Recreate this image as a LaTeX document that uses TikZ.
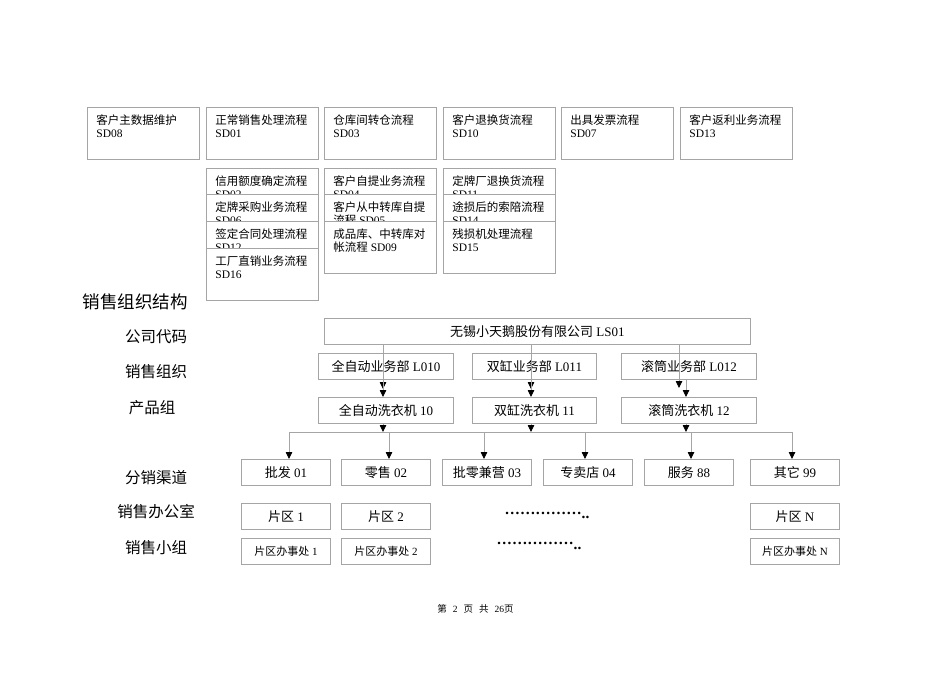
\documentclass[tikz,border=0pt]{standalone}
\usepackage{fontspec}
\setmainfont{Liberation Serif}
\newfontfamily\cjk{Noto Sans CJK SC}
\usetikzlibrary{arrows.meta}
\newcommand\zh[1]{{\cjk #1}}
\newcommand\tb[1]{\parbox[c][44pt][t]{94pt}{\vspace*{3pt}\raggedright #1}}
\definecolor{boxgray}{RGB}{165,165,165}
\begin{document}
\begin{tikzpicture}[x=1pt,y=-1pt,
  tbox/.style={draw=boxgray, line width=0.8pt, fill=white, anchor=north west,
    inner xsep=9pt, inner ysep=4pt, font=\fontsize{11.5}{13}\selectfont},
  obox/.style={draw=boxgray, line width=0.8pt, anchor=north west, inner sep=0pt,
    minimum height=26pt, font=\fontsize{13}{15}\selectfont},
  sbox/.style={obox, minimum width=89pt},
  lab/.style={font=\cjk\fontsize{15.5}{17}\selectfont, inner sep=0pt},
  dotrow/.style={inner sep=0pt, anchor=base, font=\bfseries\fontsize{15.4}{17}\selectfont},
  conn/.style={draw=boxgray, line width=0.8pt, -{Triangle[width=6.5pt,length=7pt,color=black]}},
  plain/.style={draw=boxgray, line width=0.8pt}]
\useasboundingbox (0,0) rectangle (950,672);
\fill[white] (0,0) rectangle (950,672);

% ---- top process boxes ----
\node[tbox] (sd08) at (87,107)  {\tb{\zh{客户主数据维护}\\SD08}};
\node[tbox] (sd01) at (206,107) {\tb{\zh{正常销售处理流程}\\SD01}};
\node[tbox] (sd03) at (324,107) {\tb{\zh{仓库间转仓流程}\\SD03}};
\node[tbox] (sd10) at (443,107) {\tb{\zh{客户退换货流程}\\SD10}};
\node[tbox] (sd07) at (561,107) {\tb{\zh{出具发票流程}\\SD07}};
\node[tbox] (sd13) at (680,107) {\tb{\zh{客户返利业务流程}\\SD13}};

\node[tbox] (sd02) at (206,168) {\tb{\zh{信用额度确定流程}\\SD02}};
\node[tbox] (sd06) at (206,194) {\tb{\zh{定牌采购业务流程}\\SD06}};
\node[tbox] (sd12) at (206,221) {\tb{\zh{签定合同处理流程}\\SD12}};
\node[tbox] (sd16) at (206,248) {\tb{\zh{工厂直销业务流程}\\SD16}};

\node[tbox] (sd04) at (324,168) {\tb{\zh{客户自提业务流程}\\SD04}};
\node[tbox] (sd05) at (324,194) {\tb{\zh{客户从中转库自提}\\\zh{流程} SD05}};
\node[tbox] (sd09) at (324,221) {\tb{\zh{成品库、中转库对}\\\zh{帐流程} SD09}};

\node[tbox] (sd11) at (443,168) {\tb{\zh{定牌厂退换货流程}\\SD11}};
\node[tbox] (sd14) at (443,194) {\tb{\zh{途损后的索陪流程}\\SD14}};
\node[tbox] (sd15) at (443,221) {\tb{\zh{残损机处理流程}\\SD15}};

% ---- left labels ----
\node[lab, font=\cjk\fontsize{17.5}{19}\selectfont] (t0) at (135,302) {销售组织结构};
\node[lab] (t1) at (156,337) {公司代码};
\node[lab] (t2) at (156,372) {销售组织};
\node[lab] (t3) at (152,408) {产品组};
\node[lab] (t4) at (156,478) {分销渠道};
\node[lab] (t5) at (156,512) {销售办公室};
\node[lab] (t6) at (156,548) {销售小组};

% ---- organisation boxes ----
\node[obox, minimum width=426pt] (ls01) at (324,318) {\zh{无锡小天鹅股份有限公司} LS01};
\node[obox, minimum width=135pt] (l010) at (318,353) {\zh{全自动业务部} L010};
\node[obox, minimum width=124pt] (l011) at (472,353) {\zh{双缸业务部} L011};
\node[obox, minimum width=135pt] (l012) at (621,353) {\zh{滚筒业务部} L012};
\node[obox, minimum width=135pt] (p10) at (318,397) {\zh{全自动洗衣机} 10};
\node[obox, minimum width=124pt] (p11) at (472,397) {\zh{双缸洗衣机} 11};
\node[obox, minimum width=135pt] (p12) at (621,397) {\zh{滚筒洗衣机} 12};

\node[sbox] (c1) at (241,459) {\zh{批发} 01};
\node[sbox] (c2) at (341,459) {\zh{零售} 02};
\node[sbox] (c3) at (442,459) {\zh{批零兼营} 03};
\node[sbox] (c4) at (543,459) {\zh{专卖店} 04};
\node[sbox] (c5) at (644,459) {\zh{服务} 88};
\node[sbox] (c6) at (750,459) {\zh{其它} 99};

\node[sbox] (z1) at (241,503) {\zh{片区} 1};
\node[sbox] (z2) at (341,503) {\zh{片区} 2};
\node[sbox] (zN) at (750,503) {\zh{片区} N};
\node[sbox, font=\fontsize{11}{13}\selectfont] (b1) at (241,538) {\zh{片区办事处} 1};
\node[sbox, font=\fontsize{11}{13}\selectfont] (b2) at (341,538) {\zh{片区办事处} 2};
\node[sbox, font=\fontsize{11}{13}\selectfont] (bN) at (750,538) {\zh{片区办事处} N};

\node[dotrow] (dots1) at (547,518) {\raisebox{4pt}{……………}..};
\node[dotrow] (dots2) at (539,549) {\raisebox{4.5pt}{……………}..};

\node[inner sep=0pt, font=\fontsize{9.5}{11}\selectfont] (foot) at (475.5,609) {\zh{第}\hspace{6pt}2\hspace{6pt}\zh{页}\hspace{6pt}\zh{共}\hspace{6pt}26\zh{页}};

% ---- connectors ----
\coordinate (a1) at (383,389);
\coordinate (a2) at (531,389);
\coordinate (a3) at (679,388);
\draw[conn] (ls01.south -| a1) -- (a1);
\draw[conn] (ls01.south -| a2) -- (a2);
\draw[conn] (ls01.south -| a3) -- (a3);

\coordinate (e1) at (383,380);
\coordinate (e2) at (531,380);
\coordinate (e3) at (686,380);
\draw[conn] (l010.south -| e1) -- (p10.north -| e1);
\draw[conn] (l011.south -| e2) -- (p11.north -| e2);
\draw[conn] (l012.south -| e3) -- (p12.north -| e3);

\coordinate (busL) at (289,432);
\coordinate (busR) at (792,432);
\draw[conn] (p10.south -| e1) -- (e1 |- busL);
\draw[conn] (p11.south -| e2) -- (e2 |- busL);
\draw[conn] (p12.south -| e3) -- (e3 |- busL);
\draw[plain] (busL) -- (busR);

\coordinate (d1) at (289,432);
\coordinate (d2) at (389,432);
\coordinate (d3) at (484,432);
\coordinate (d4) at (585,432);
\coordinate (d5) at (691,432);
\coordinate (d6) at (792,432);
\draw[conn] (d1) -- (d1 |- c1.north);
\draw[conn] (d2) -- (d2 |- c2.north);
\draw[conn] (d3) -- (d3 |- c3.north);
\draw[conn] (d4) -- (d4 |- c4.north);
\draw[conn] (d5) -- (d5 |- c5.north);
\draw[conn] (d6) -- (d6 |- c6.north);
\end{tikzpicture}
\end{document}
